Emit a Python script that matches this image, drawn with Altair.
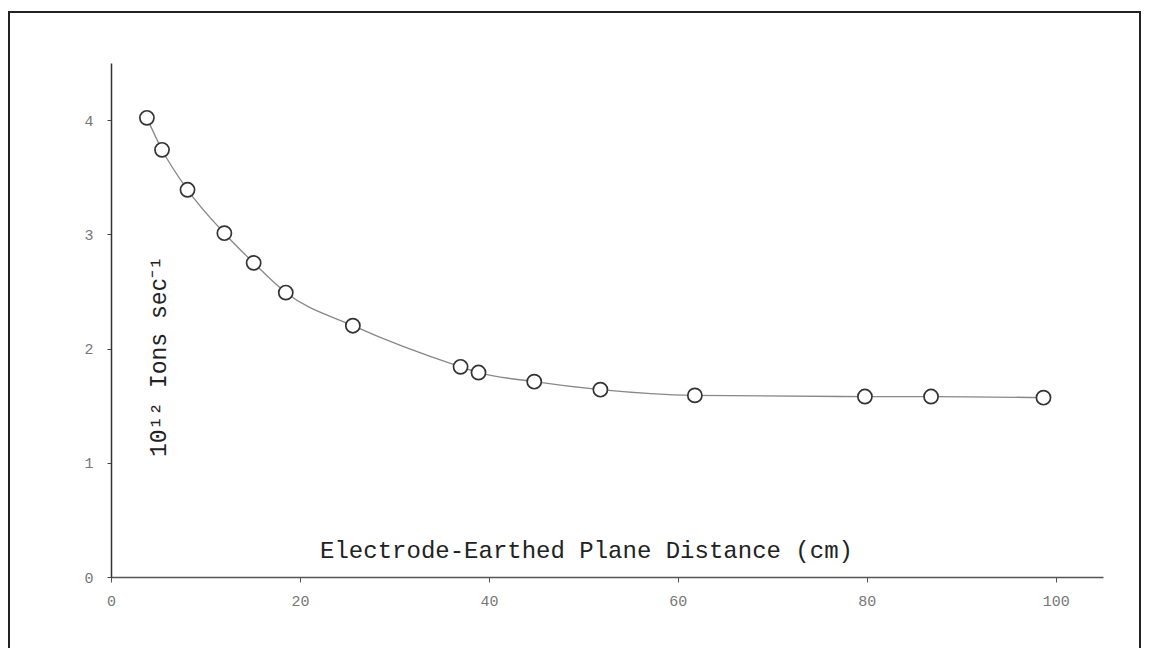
import altair as alt
import pandas as pd

distance_cm = [3.8, 5.4, 8.1, 12.0, 15.1, 18.5, 25.6, 37.0, 38.9, 44.8, 51.8, 61.8, 79.8, 86.8, 98.7]
ions_1e12 = [4.02, 3.74, 3.39, 3.01, 2.75, 2.49, 2.20, 1.84, 1.79, 1.71, 1.64, 1.59, 1.58, 1.58, 1.57]
x_ticks = [0, 20, 40, 60, 80, 100]
y_ticks = [0, 1, 2, 3, 4]

df = pd.DataFrame({"x": distance_cm, "y": ions_1e12})

W, H = 992, 514
PAD_L, PAD_T, PAD_R, PAD_B = 103, 55, 38, 71

xenc = alt.X(
    "x:Q",
    scale=alt.Scale(domain=[0, 105], nice=False, zero=False),
    axis=alt.Axis(
        values=x_ticks, format="d", title="Electrode-Earthed Plane Distance (cm)",
        titleFont="Liberation Mono", titleFontSize=24, titleFontWeight="normal",
        titleColor="#222", titleX=475, titleY=-20, titleAlign="center",
        titleBaseline="alphabetic", titleAnchor="start",
        labelFont="Liberation Mono", labelFontSize=15, labelColor="#777",
        labelPadding=11, tickSize=5, tickColor="#555", domainColor="#555",
        domainWidth=1.5, grid=False, labelFlush=False,
    ),
)
yenc = alt.Y(
    "y:Q",
    scale=alt.Scale(domain=[0, 4.5], nice=False, zero=False),
    axis=alt.Axis(
        values=y_ticks, format="d", title="10¹² Ions sec⁻¹",
        titleFont="Liberation Mono", titleFontSize=23, titleFontWeight="normal",
        titleColor="#222", titleAngle=270, titleX=54, titleY=293,
        titleAlign="center", titleBaseline="alphabetic", titleAnchor="start",
        labelFont="Liberation Mono", labelFontSize=15, labelColor="#777",
        labelPadding=14, tickSize=4, tickColor="#444", domainColor="#333",
        domainWidth=1.5, grid=False,
    ),
)

line = alt.Chart(df).mark_line(color="#888", strokeWidth=1.3, interpolate="monotone").encode(x=xenc, y=yenc)
pts = alt.Chart(df).mark_point(
    shape="circle", filled=False, fill="white", fillOpacity=1,
    stroke="#333", strokeWidth=1.7, size=200, opacity=1,
).encode(x="x:Q", y="y:Q")

frame = alt.Chart(pd.DataFrame({"a": [0]})).mark_rect(
    fill="transparent", stroke="#222", strokeWidth=2, clip=False
).encode(
    x=alt.value(-102), x2=alt.value(1029), y=alt.value(-51), y2=alt.value(640)
)

chart = alt.layer(line, pts, frame).properties(
    width=W, height=H,
    autosize=alt.AutoSizeParams(type="none"),
    padding={"left": PAD_L, "top": PAD_T, "right": PAD_R, "bottom": PAD_B},
    background="white",
).configure_view(stroke=None)

chart.save("out.html", embed_options={"renderer": "svg", "actions": False})
